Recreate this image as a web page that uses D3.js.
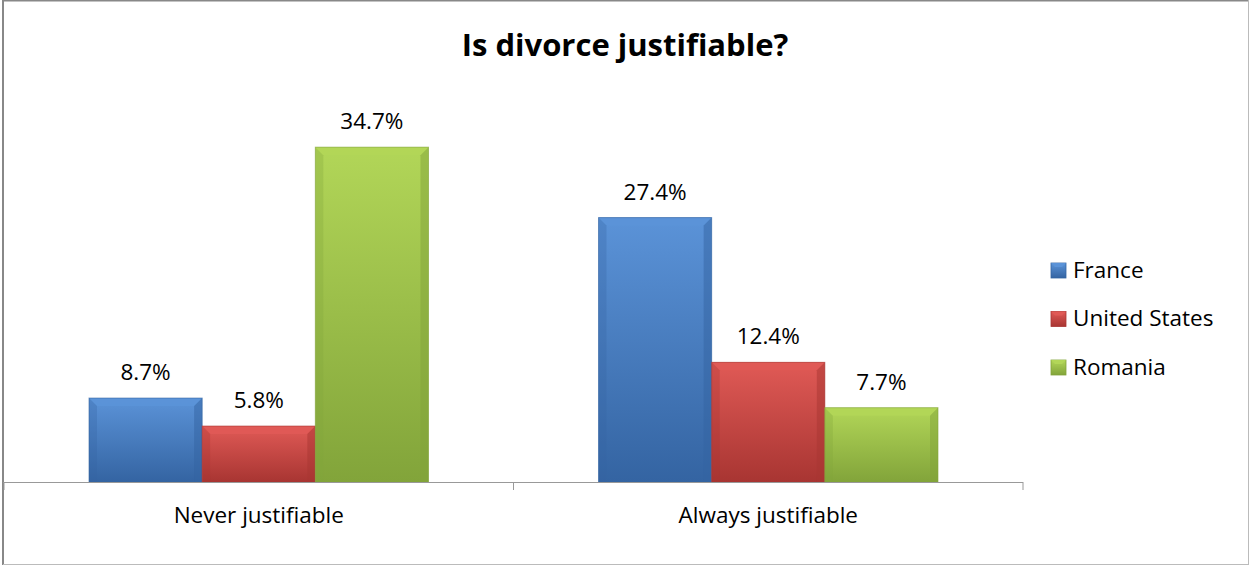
<!DOCTYPE html>
<html>
<head>
<meta charset="utf-8">
<script src="https://cdn.jsdelivr.net/npm/d3@7"></script>
<style>
  body { margin: 0; background: #fff; }
  svg { display: block; }
  text { font-family: "Open Sans", sans-serif; fill: #000; }
</style>
</head>
<body>
<svg></svg>
<script>
let categories = ["Never justifiable", "Always justifiable"]
let seriesNames = ["France", "United States", "Romania"]
let france = [8.7, 27.4]
let unitedStates = [5.8, 12.4]
let romania = [34.7, 7.7]

let width = 1250
let height = 566

// colours per series: [light, base, dark]
let colors = [
  ["#5b93d8", "#4479c4", "#3464a2"],
  ["#e05a56", "#cc4440", "#a83532"],
  ["#b2d658", "#9cc24a", "#82a43a"]
]

let values = [france, unitedStates, romania]

let svg = d3.select("svg").attr("width", width).attr("height", height)

// chart frame
svg.append("line").attr("x1", 3).attr("y1", 0.5).attr("x2", 1248).attr("y2", 0.5)
  .attr("stroke", "#888").attr("stroke-width", 2)
svg.append("line").attr("x1", 3).attr("y1", 0).attr("x2", 3).attr("y2", 565)
  .attr("stroke", "#888").attr("stroke-width", 2)
svg.append("line").attr("x1", 3).attr("y1", 564.5).attr("x2", 1248).attr("y2", 564.5)
  .attr("stroke", "#bbb").attr("stroke-width", 1)
svg.append("line").attr("x1", 1248.5).attr("y1", 0).attr("x2", 1248.5).attr("y2", 565)
  .attr("stroke", "#bbb").attr("stroke-width", 1)

svg.append("text")
  .attr("x", 625).attr("y", 56)
  .attr("text-anchor", "middle")
  .style("font-size", "31px").style("font-weight", "bold")
  .text("Is divorce justifiable?")

let x0 = d3.scaleBand().domain(categories).range([4, 1023]).paddingInner(0).paddingOuter(0)
let groupPad = 85
let x1 = d3.scaleBand().domain(seriesNames).range([0, x0.bandwidth() - 2 * groupPad])
let y = d3.scaleLinear().domain([0, 40]).range([482, 96])

let defs = svg.append("defs")
colors.forEach((c, i) => {
  let g = defs.append("linearGradient").attr("id", "grad" + i)
    .attr("x1", 0).attr("y1", 0).attr("x2", 0).attr("y2", 1)
  g.append("stop").attr("offset", "0%").attr("stop-color", c[0])
  g.append("stop").attr("offset", "100%").attr("stop-color", c[2])
})

let bars = []
categories.forEach((cat, ci) => {
  seriesNames.forEach((s, si) => {
    bars.push({ cat: cat, series: si, value: values[si][ci] })
  })
})

let bevel = 8
let barG = svg.append("g")
bars.forEach((b) => {
  let bx = x0(b.cat) + groupPad + x1(seriesNames[b.series])
  let bw = x1.bandwidth()
  let top = y(b.value)
  let bottom = y(0)
  let c = colors[b.series]
  let g = barG.append("g")
  g.append("rect").attr("x", bx).attr("y", top).attr("width", bw).attr("height", bottom - top)
    .attr("fill", "url(#grad" + b.series + ")")
  let bv = Math.min(bevel, (bottom - top) / 2)
  // top bevel
  g.append("polygon")
    .attr("points", [[bx, top], [bx + bw, top], [bx + bw - bv, top + bv], [bx + bv, top + bv]].join(" "))
    .attr("fill", c[0]).attr("opacity", 0.9)
  g.append("polygon")
    .attr("points", [[bx, top], [bx + bv, top + bv], [bx + bv, bottom], [bx, bottom]].join(" "))
    .attr("fill", c[2]).attr("opacity", 0.3)
  g.append("polygon")
    .attr("points", [[bx + bw, top], [bx + bw - bv, top + bv], [bx + bw - bv, bottom], [bx + bw, bottom]].join(" "))
    .attr("fill", c[2]).attr("opacity", 0.5)
  g.append("rect").attr("x", bx).attr("y", top).attr("width", bw).attr("height", bottom - top)
    .attr("fill", "none").attr("stroke", c[2]).attr("stroke-width", 1).attr("opacity", 0.6)

  svg.append("text")
    .attr("x", bx + bw / 2).attr("y", top - 18)
    .attr("text-anchor", "middle")
    .style("font-size", "22.5px")
    .text(b.value.toFixed(1) + "%")
})

// category axis
let xAxis = d3.axisBottom(x0).tickSize(0).tickPadding(0)
let axisG = svg.append("g").attr("transform", "translate(0,482)")
axisG.append("line").attr("x1", 3).attr("x2", 1023).attr("y1", 0.5).attr("y2", 0.5)
  .attr("stroke", "#999")
;[4, 513.5, 1023].forEach((t) => {
  axisG.append("line").attr("x1", t).attr("x2", t).attr("y1", 0).attr("y2", 8)
    .attr("stroke", "#999")
})
axisG.append("g").call(xAxis)
  .call((g) => g.select(".domain").remove())
  .selectAll("text")
  .attr("y", 41)
  .attr("dy", 0)
  .style("font-size", "22.5px")
  .style("font-family", "'Open Sans', sans-serif")
  .attr("fill", "#000")

// legend
let legend = svg.append("g")
seriesNames.forEach((s, i) => {
  let ly = 270.5 + i * 48.5
  let c = colors[i]
  legend.append("rect").attr("x", 1051).attr("y", ly - 7.5).attr("width", 15).attr("height", 15)
    .attr("fill", "url(#grad" + i + ")").attr("stroke", c[2]).attr("stroke-width", 0.8)
  legend.append("polygon")
    .attr("points", [[1051, ly - 7.5], [1066, ly - 7.5], [1062, ly - 3.5], [1055, ly - 3.5]].join(" "))
    .attr("fill", c[0])
  legend.append("text").attr("x", 1073).attr("y", ly + 7)
    .style("font-size", "22.5px")
    .text(s)
})
</script>
</body>
</html>
